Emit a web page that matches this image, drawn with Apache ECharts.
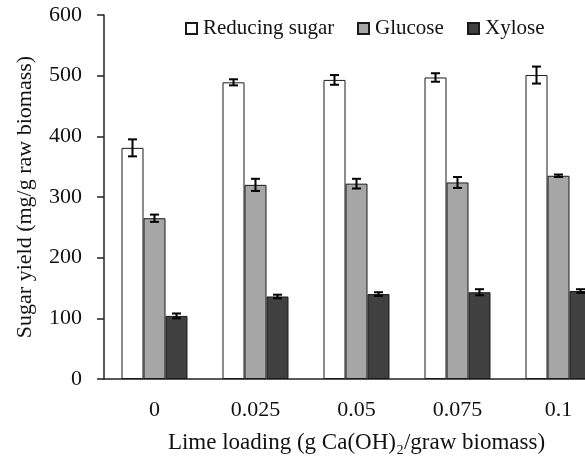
<!DOCTYPE html>
<html>
<head>
<meta charset="utf-8">
<script src="https://cdn.jsdelivr.net/npm/echarts@6/dist/echarts.min.js"></script>
<style>
  html, body { margin: 0; padding: 0; background: #fff; }
  #chart { width: 585px; height: 459px; }
</style>
</head>
<body>
<div id="chart"></div>
<script>
// Lime loading levels (g Ca(OH)2 / g raw biomass)
const categories = ['0', '0.025', '0.05', '0.075', '0.1'];

// Sugar yields (mg/g raw biomass) and their standard deviations
const reducingSugar    = [381, 489, 493, 497, 501];
const reducingSugarErr = [14, 5, 8, 7, 14];
const glucose          = [265, 320, 322, 324, 335];
const glucoseErr       = [6, 10, 8, 9, 2];
const xylose           = [104, 136, 140, 143, 145];
const xyloseErr        = [4, 3, 3, 5, 3];

const yTicks = { min: 0, max: 600, interval: 100 };

const FONT = "'Liberation Serif', 'Times New Roman', serif";
const BAR_W = 22;

const seriesDefs = [
  { name: 'Reducing sugar', values: reducingSugar, errors: reducingSugarErr, color: '#ffffff', offset: -BAR_W },
  { name: 'Glucose',        values: glucose,       errors: glucoseErr,       color: '#a6a6a6', offset: 0 },
  { name: 'Xylose',         values: xylose,        errors: xyloseErr,        color: '#404040', offset: BAR_W }
];

function errorBarSeries(def) {
  return {
    type: 'custom',
    name: def.name + ' error',
    z: 10,
    silent: true,
    data: def.values.map((v, i) => [i, v, def.errors[i]]),
    renderItem: function (params, api) {
      const i = api.value(0);
      const v = api.value(1);
      const e = api.value(2);
      const hi = api.coord([i, v + e]);
      const lo = api.coord([i, v - e]);
      const x = hi[0] + def.offset;
      const cap = 4.5;
      const style = { stroke: '#000', lineWidth: 2, fill: null };
      return {
        type: 'group',
        children: [
          { type: 'line', shape: { x1: x, y1: hi[1], x2: x, y2: lo[1] }, style: style },
          { type: 'line', shape: { x1: x - cap, y1: hi[1], x2: x + cap, y2: hi[1] }, style: style },
          { type: 'line', shape: { x1: x - cap, y1: lo[1], x2: x + cap, y2: lo[1] }, style: style }
        ]
      };
    }
  };
}

const barSeries = seriesDefs.map(def => ({
  type: 'bar',
  name: def.name,
  data: def.values,
  barWidth: BAR_W,
  barGap: '0%',
  itemStyle: { color: def.color, borderColor: '#1a1a1a', borderWidth: 1 }
}));

function legendAt(name, left) {
  return {
    data: [name],
    left: left,
    top: 13,
    itemWidth: 11,
    itemHeight: 11,
    itemGap: 0,
    icon: 'rect',
    selectedMode: false,
    textStyle: { fontFamily: FONT, fontSize: 21, color: '#111', padding: [0, 0, 0, 1] }
  };
}

const chart = echarts.init(document.getElementById('chart'), null, { renderer: 'canvas' });

chart.setOption({
  backgroundColor: '#ffffff',
  animation: false,
  legend: [
    legendAt('Reducing sugar', 180),
    legendAt('Glucose', 352),
    legendAt('Xylose', 462)
  ],
  grid: { left: 104, top: 15, width: 505, height: 364, containLabel: false, outerBoundsMode: 'none' },
  xAxis: {
    type: 'category',
    data: categories,
    name: 'Lime loading (g Ca(OH)\u2082/graw biomass)',
    nameLocation: 'middle',
    nameGap: 52,
    nameTextStyle: { fontFamily: FONT, fontSize: 23, color: '#111' },
    axisLine: { lineStyle: { color: '#222', width: 1.5 } },
    axisTick: { alignWithLabel: true, length: 6, lineStyle: { color: '#222', width: 1.5 } },
    axisLabel: { fontFamily: FONT, fontSize: 22, color: '#111', margin: 20 }
  },
  yAxis: {
    type: 'value',
    min: yTicks.min,
    max: yTicks.max,
    interval: yTicks.interval,
    name: 'Sugar yield (mg/g raw biomass)',
    nameLocation: 'middle',
    nameGap: 68,
    nameRotate: 90,
    nameTextStyle: { fontFamily: FONT, fontSize: 22, color: '#111' },
    axisLine: { show: true, lineStyle: { color: '#222', width: 1.5 } },
    axisTick: { show: true, length: 7, lineStyle: { color: '#222', width: 1.5 } },
    axisLabel: { fontFamily: FONT, fontSize: 22, color: '#111', margin: 22 },
    splitLine: { show: false }
  },
  series: barSeries.concat(seriesDefs.map(errorBarSeries))
});
</script>
</body>
</html>
